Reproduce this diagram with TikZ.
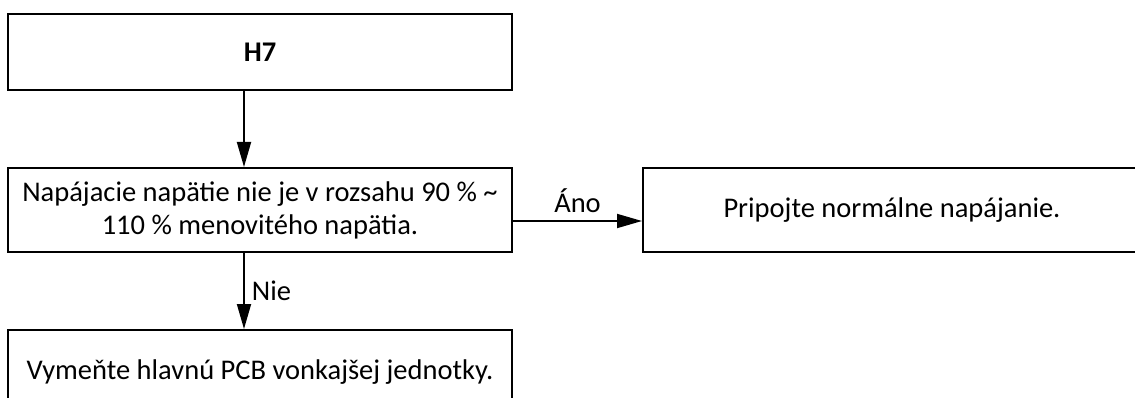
\documentclass[tikz,border=0pt]{standalone}
\usepackage{fontspec}
\setmainfont{Carlito}
\usetikzlibrary{arrows.meta,positioning,calc}
\tikzset{
  box/.style ={draw=black,line width=2pt,fill=white,anchor=north west,
               inner sep=0pt,align=center,minimum width=504pt,
               minimum height=84pt,font=\fontsize{28.5}{33}\selectfont},
  flow/.style={-{Triangle[length=25pt,width=14pt]},draw=black,line width=1.8pt},
  lbl/.style ={font=\fontsize{28.5}{33}\selectfont,inner sep=7pt},
}
\begin{document}
\begin{tikzpicture}[x=1pt,y=-1pt]
\useasboundingbox (0,0) rectangle (1135,398);

% ---- boxes ---------------------------------------------------------------
\node[box,minimum height=76pt] (h7) at (7,13) {\textbf{H7}};
\node[box] (chk) at (7,167)
  {Napájacie napätie nie je v rozsahu 90 \% \textasciitilde\\
   110 \% menovitého napätia.};
\node[box,minimum width=498pt] (fix) at (642,167) {Pripojte normálne napájanie.};
\node[box] (pcb) at (7,329) {Vymeňte hlavnú PCB vonkajšej jednotky.};

% ---- connectors ----------------------------------------------------------
\coordinate (spine) at (244,0);
\draw[flow] (h7.south -| spine) -- (chk.north -| spine);
\draw[flow] ([yshift=-11pt]chk.east) -- node[lbl,above] (yes) {Áno}
  ([yshift=-11pt]fix.west);
\draw[flow] (chk.south -| spine) -- node[lbl,right] (no) {Nie}
  (pcb.north -| spine);
\end{tikzpicture}
\end{document}
